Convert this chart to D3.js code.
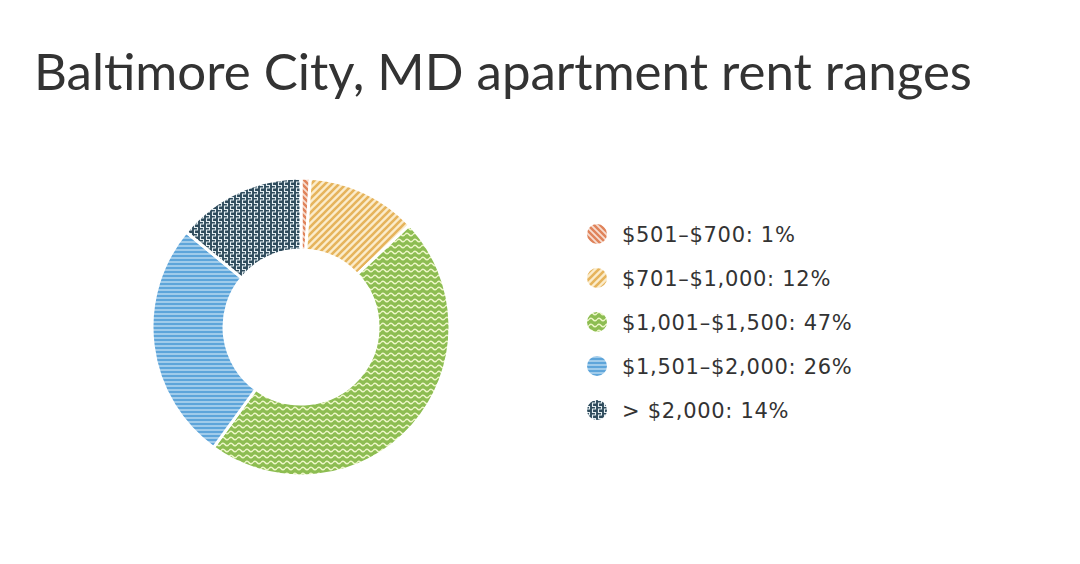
<!DOCTYPE html>
<html><head><meta charset="utf-8">
<script src="https://cdn.jsdelivr.net/npm/d3@7"></script>
<style>
html,body{margin:0;padding:0;background:#fff;}
svg{display:block;}
</style></head>
<body>
<svg id="chart" width="1080" height="564"></svg>
<script>
const title = "Baltimore City, MD apartment rent ranges";
const categories = ["$501–$700", "$701–$1,000", "$1,001–$1,500", "$1,501–$2,000", "> $2,000"];
const values = [1, 12, 47, 26, 14];
const colors = ["#e0835a", "#e6b45c", "#8dbd52", "#5ea5da", "#2e4b5c"];
const lights = ["#f7ddd0", "#fbeccb", "#eef7c8", "#dceefa", "#e4eef2"];

const svg = d3.select("#chart");
const defs = svg.append("defs");

function pat(i, w, h, draw) {
  const p = defs.append("pattern").attr("id", "p" + i)
    .attr("patternUnits", "userSpaceOnUse").attr("width", w).attr("height", h);
  draw(p);
}
pat(0, 6, 6, p => {
  p.append("rect").attr("width", 6).attr("height", 6).attr("fill", lights[0]);
  p.append("path").attr("d", "M0 0L6 6M5 -1L7 1M-1 5L1 7").attr("stroke", colors[0]).attr("stroke-width", 2.4);
});
pat(1, 7, 7, p => {
  p.append("rect").attr("width", 7).attr("height", 7).attr("fill", lights[1]);
  p.append("path").attr("d", "M0 7L7 0M-1 1L1 -1M6 8L8 6").attr("stroke", colors[1]).attr("stroke-width", 2.6);
});
pat(2, 8, 6, p => {
  p.append("rect").attr("width", 8).attr("height", 6).attr("fill", colors[2]);
  p.append("path").attr("d", "M0 3.5Q2 1 4 3.5T8 3.5").attr("stroke", lights[2]).attr("stroke-width", 1.5).attr("fill", "none");
});
pat(3, 4, 4, p => {
  p.append("rect").attr("width", 4).attr("height", 4).attr("fill", colors[3]);
  p.append("path").attr("d", "M0 3L4 3").attr("stroke", "#d6ebf8").attr("stroke-width", 1.1);
});
pat(4, 6, 6, p => {
  p.append("rect").attr("width", 6).attr("height", 6).attr("fill", colors[4]);
  p.append("path").attr("d", "M1.5 0L1.5 2.5L4.5 2.5L4.5 5L1.5 5L1.5 6").attr("stroke", lights[4]).attr("stroke-width", 1.1).attr("fill", "none");
});

// title
svg.append("text").attr("x", 34).attr("y", 90)
  .attr("font-family", "Lato, 'Open Sans', sans-serif")
  .attr("font-size", 51).attr("fill", "#333")
  .text(title);

// donut
const cx = 301, cy = 327, R = 149, r = 77;
const pie = d3.pie().sort(null).value(d => d);
const arc = d3.arc().innerRadius(r).outerRadius(R);
const g = svg.append("g").attr("transform", `translate(${cx},${cy})`);
g.selectAll("path").data(pie(values)).join("path")
  .attr("d", arc)
  .attr("fill", (d, i) => `url(#p${i})`)
  .attr("stroke", "#fff").attr("stroke-width", 3).attr("stroke-linejoin", "round");

// legend
const lx = 597, ly0 = 234, dy = 44;
const leg = svg.append("g");
const items = leg.selectAll("g").data(categories).join("g")
  .attr("transform", (d, i) => `translate(${lx},${ly0 + i * dy})`);
items.append("circle").attr("r", 10).attr("fill", (d, i) => `url(#p${i})`);
items.append("text").attr("x", 25).attr("y", 8)
  .attr("font-family", "'DejaVu Sans', sans-serif").attr("font-size", 21)
  .attr("letter-spacing", 0.7).attr("fill", "#333")
  .text((d, i) => `${d}: ${values[i]}%`);
</script>
</body></html>
